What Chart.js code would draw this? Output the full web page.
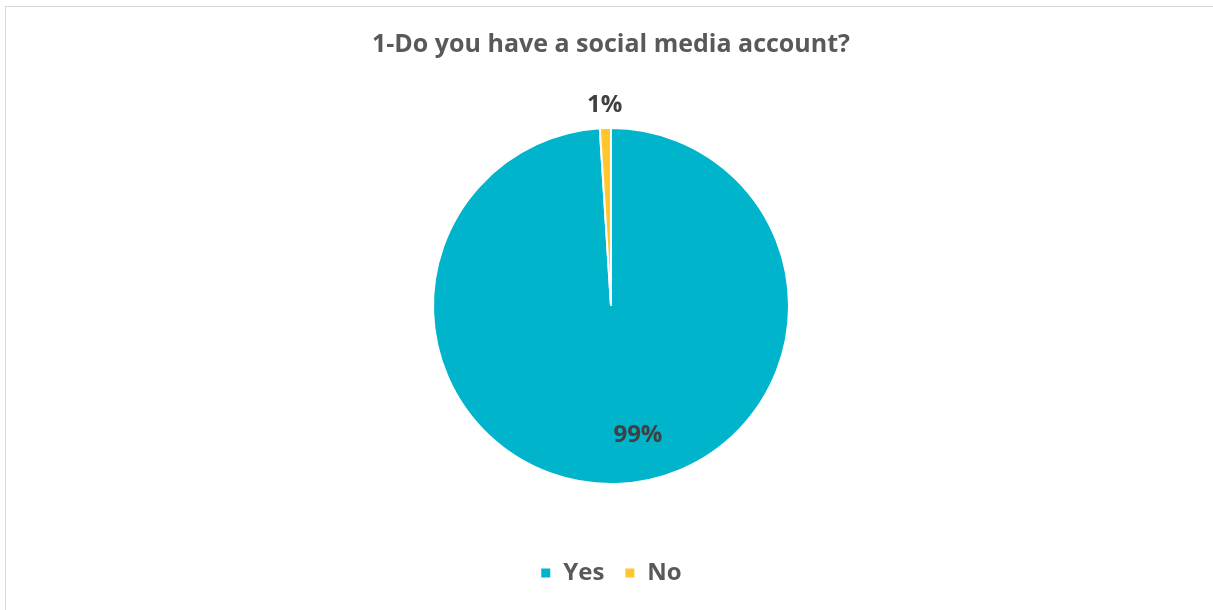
<!DOCTYPE html>
<html>
<head>
<meta charset="utf-8">
<script src="https://cdn.jsdelivr.net/npm/chart.js@4/dist/chart.umd.min.js"></script>
<style>
  html, body { margin: 0; padding: 0; background: #fff; }
  #frame {
    position: absolute; left: 5px; top: 6px; right: -2px; bottom: -2px;
    border-left: 1.5px solid #d9d9d9; border-top: 1.5px solid #d9d9d9;
  }
  #wrap { position: absolute; left: 0; top: 0; width: 1213px; height: 610px; }
</style>
</head>
<body>
<div id="frame"></div>
<div id="wrap"><canvas id="pie" width="1213" height="610"></canvas></div>
<script>
const categories = ["Yes", "No"];
const answers = [99, 1];
const sliceColors = ["#00B4CB", "#FFC72C"];
const chartTitle = "1-Do you have a social media account?";

const textColor = "#595959";
const fontFamily = "'Open Sans', Lato, sans-serif";

// percentage labels: inside for the big slice, outside for the small one
const pieLabels = {
  id: "pieLabels",
  afterDatasetsDraw(chart) {
    const ctx = chart.ctx;
    const meta = chart.getDatasetMeta(0);
    const total = answers.reduce((a, b) => a + b, 0);
    ctx.save();
    ctx.font = "bold 24px " + fontFamily;
    ctx.fillStyle = "#404040";
    ctx.textAlign = "center";
    ctx.textBaseline = "middle";
    meta.data.forEach((arc, i) => {
      const { x, y, startAngle, endAngle, outerRadius } = arc.getProps(
        ["x", "y", "startAngle", "endAngle", "outerRadius"], true);
      let mid = (startAngle + endAngle) / 2;
      let dist;
      if (answers[i] / total > 0.5) {
        mid -= 10 * Math.PI / 180;
        dist = outerRadius * 0.74;
      } else {
        dist = outerRadius + 23;
      }
      const pct = Math.round(answers[i] / total * 100) + "%";
      ctx.fillText(pct, x + Math.cos(mid) * dist, y + Math.sin(mid) * dist);
    });
    ctx.restore();
  },
};

new Chart(document.getElementById("pie"), {
  type: "pie",
  data: {
    labels: categories,
    datasets: [{
      data: answers,
      backgroundColor: sliceColors,
      borderColor: "#ffffff",
      borderWidth: 2,
      radius: 178,
    }],
  },
  options: {
    responsive: false,
    animation: false,
    layout: { padding: { left: 9, bottom: 15 } },
    plugins: {
      title: {
        display: true,
        text: chartTitle,
        color: textColor,
        font: { family: fontFamily, size: 25, weight: "bold" },
        padding: { top: 30, bottom: 11 },
      },
      legend: {
        position: "bottom",
        labels: {
          color: textColor,
          font: { family: fontFamily, size: 24, weight: "bold" },
          boxWidth: 11,
          boxHeight: 11,
          padding: 20,
        },
      },
      tooltip: { enabled: false },
    },
  },
  plugins: [pieLabels],
});
</script>
</body>
</html>
